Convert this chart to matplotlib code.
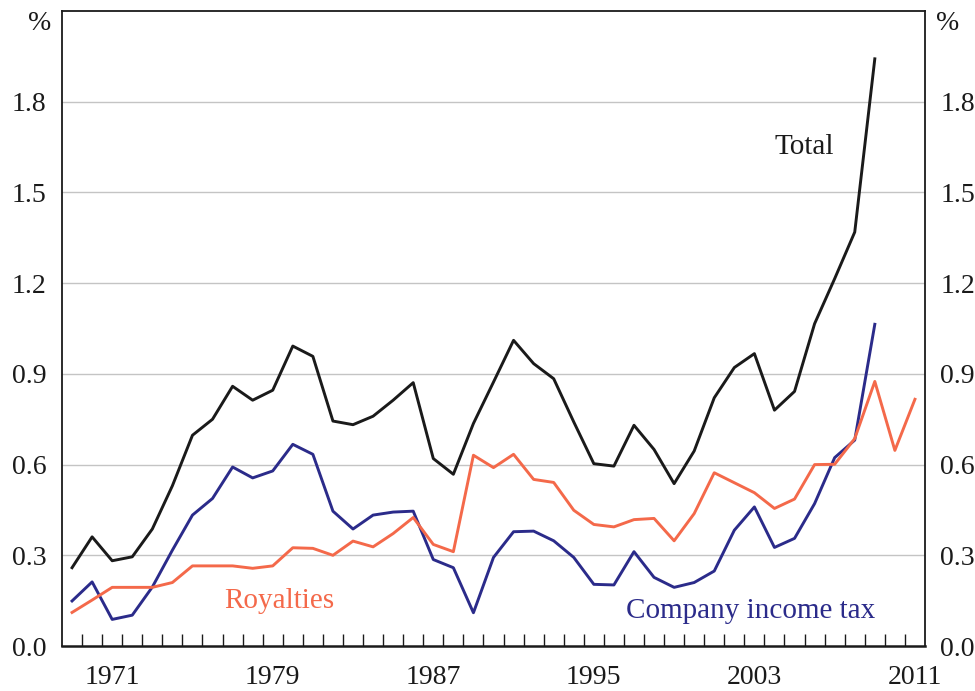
import numpy as np
import matplotlib.pyplot as plt
from matplotlib.ticker import FixedLocator

# Datos (% )
anios = np.arange(1969, 2012)

total = [0.259, 0.361, 0.282, 0.295, 0.387, 0.530, 0.697, 0.750, 0.859, 0.813,
         0.846, 0.992, 0.958, 0.744, 0.732, 0.760, 0.813, 0.871, 0.620, 0.568,
         0.736, 0.873, 1.011, 0.934, 0.884, 0.741, 0.603, 0.595, 0.730, 0.650,
         0.537, 0.645, 0.821, 0.921, 0.967, 0.780, 0.842, 1.066, 1.215, 1.369,
         1.942]

impuesto = [0.149, 0.212, 0.088, 0.102, 0.195, 0.317, 0.433, 0.488, 0.592, 0.556,
            0.579, 0.667, 0.634, 0.446, 0.387, 0.433, 0.443, 0.446, 0.286, 0.259,
            0.110, 0.293, 0.378, 0.380, 0.348, 0.293, 0.204, 0.202, 0.312, 0.227,
            0.194, 0.210, 0.248, 0.383, 0.460, 0.326, 0.356, 0.471, 0.623, 0.681,
            1.064]

regalias = [0.111, 0.152, 0.194, 0.194, 0.194, 0.210, 0.265, 0.265, 0.265, 0.257,
            0.265, 0.325, 0.323, 0.300, 0.347, 0.328, 0.372, 0.425, 0.336, 0.312,
            0.631, 0.590, 0.634, 0.551, 0.541, 0.449, 0.402, 0.394, 0.418, 0.422,
            0.348, 0.438, 0.573, 0.540, 0.507, 0.455, 0.486, 0.600, 0.601, 0.686,
            0.875, 0.647, 0.816]

etiquetas_x = [1971, 1979, 1987, 1995, 2003, 2011]
ticks_y = [0.0, 0.3, 0.6, 0.9, 1.2, 1.5, 1.8]

negro = '#1a1a1a'
naranja = '#f4694a'
azul = '#2b2b8a'

plt.rcParams['font.family'] = ['Liberation Serif', 'DejaVu Serif']

fig = plt.figure(figsize=(9.75, 6.91), dpi=100)
ax = fig.add_axes([0.0636, 0.0651, 0.8851, 0.9189])

for y in ticks_y[1:]:
    ax.axhline(y, color='#c4c4c4', lw=1.0, zorder=1)

ax.plot(anios[:len(total)], total, color=negro, lw=2.1, zorder=3)
ax.plot(anios[:len(impuesto)], impuesto, color=azul, lw=2.1, zorder=3)
ax.plot(anios[:len(regalias)], regalias, color=naranja, lw=2.1, zorder=3)

ax.set_xlim(1968.5, 2011.5)
ax.set_ylim(0, 2.1)

ax.set_xticks(etiquetas_x)
ax.set_xticklabels([str(a) for a in etiquetas_x])
ax.xaxis.set_minor_locator(FixedLocator(np.arange(1969.5, 2011.5, 1.0)))
ax.tick_params(axis='x', which='major', length=0, pad=14, labelsize=20, colors=negro)
ax.tick_params(axis='x', which='minor', direction='in', length=9, width=1.0, color=negro)

ax.set_yticks(ticks_y)
ax.set_yticklabels(['%.1f' % v for v in ticks_y])
ax.tick_params(axis='y', which='both', length=0, pad=11, labelsize=20, colors=negro,
               labelleft=True, labelright=True)

for s in ax.spines.values():
    s.set_color(negro)
    s.set_linewidth(1.3)
ax.spines['bottom'].set_linewidth(1.8)

# Símbolo de porcentaje en ambos ejes
ax.text(-0.012, 0.98, '%', transform=ax.transAxes, ha='right', va='center',
        fontsize=20, color=negro)
ax.text(1.013, 0.98, '%', transform=ax.transAxes, ha='left', va='center',
        fontsize=20, color=negro)

ax.text(2005.5, 1.65, 'Total', ha='center', va='center', fontsize=21, color=negro)
ax.text(1979.3, 0.15, 'Royalties', ha='center', va='center', fontsize=21, color=naranja)
ax.text(2002.8, 0.115, 'Company income tax', ha='center', va='center', fontsize=21,
        color=azul)

fig.savefig('out.png', dpi=100)
